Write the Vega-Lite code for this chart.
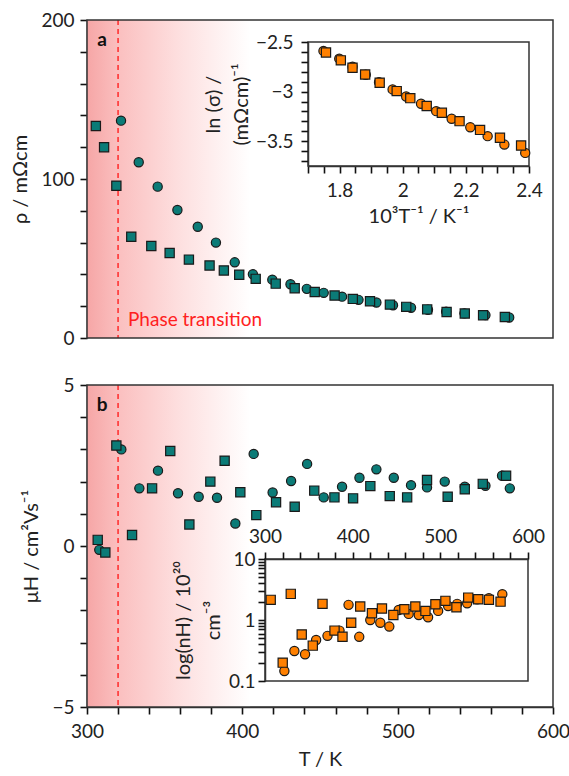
{
  "$schema": "https://vega.github.io/schema/vega-lite/v6.json",
  "padding": {"left": 10, "top": 11, "right": 5, "bottom": 5},
  "background": "white",
  "config": {
    "font": "Lato",
    "view": {"stroke": null},
    "axis": {"labelFont": "Lato", "titleFont": "Lato", "labelFontSize": 19, "titleFontSize": 20, "titleFontWeight": "normal", "labelColor": "#222222", "titleColor": "#222222", "domainColor": "#333333", "domainWidth": 1.5, "grid": false, "labelPadding": 6, "titlePadding": 10, "labelOverlap": false, "labelBound": false, "labelFlush": false}
  },
  "datasets": {
    "rho": [
      {"T": 321.9, "rho": 136.7, "sample": "A"}, {"T": 333.3, "rho": 110.5, "sample": "A"}, {"T": 345.5, "rho": 95.2, "sample": "A"}, {"T": 358.2, "rho": 80.5, "sample": "A"}, {"T": 371.3, "rho": 70, "sample": "A"}, {"T": 383, "rho": 60, "sample": "A"}, {"T": 395.1, "rho": 47.6, "sample": "A"}, {"T": 406.8, "rho": 40.1, "sample": "A"}, {"T": 419.3, "rho": 36.7, "sample": "A"}, {"T": 431, "rho": 33.8, "sample": "A"}, {"T": 441.5, "rho": 30.9, "sample": "A"}, {"T": 452.4, "rho": 28.4, "sample": "A"}, {"T": 464.2, "rho": 26, "sample": "A"}, {"T": 474.8, "rho": 24, "sample": "A"}, {"T": 486.3, "rho": 22.3, "sample": "A"}, {"T": 497, "rho": 20.6, "sample": "A"}, {"T": 508.6, "rho": 19, "sample": "A"}, {"T": 519.5, "rho": 17.8, "sample": "A"}, {"T": 531.2, "rho": 16.6, "sample": "A"}, {"T": 543, "rho": 15.5, "sample": "A"}, {"T": 556.5, "rho": 14.4, "sample": "A"}, {"T": 571.8, "rho": 12.9, "sample": "A"},
      {"T": 305.7, "rho": 133.3, "sample": "B"}, {"T": 311, "rho": 120, "sample": "B"}, {"T": 318.9, "rho": 95.8, "sample": "B"}, {"T": 328.5, "rho": 63.7, "sample": "B"}, {"T": 341.4, "rho": 57.9, "sample": "B"}, {"T": 353.2, "rho": 53.5, "sample": "B"}, {"T": 365.6, "rho": 49.3, "sample": "B"}, {"T": 378.9, "rho": 45.6, "sample": "B"}, {"T": 388.1, "rho": 42.5, "sample": "B"}, {"T": 398, "rho": 39.8, "sample": "B"}, {"T": 408.6, "rho": 37.2, "sample": "B"}, {"T": 421.5, "rho": 34.2, "sample": "B"}, {"T": 433.7, "rho": 31.3, "sample": "B"}, {"T": 446.6, "rho": 28.9, "sample": "B"}, {"T": 459.4, "rho": 26.7, "sample": "B"}, {"T": 471.1, "rho": 24.6, "sample": "B"}, {"T": 482.2, "rho": 23.1, "sample": "B"}, {"T": 495, "rho": 21, "sample": "B"}, {"T": 505.5, "rho": 19.6, "sample": "B"}, {"T": 519, "rho": 18, "sample": "B"}, {"T": 531.5, "rho": 16.4, "sample": "B"}, {"T": 543.2, "rho": 15.4, "sample": "B"}, {"T": 555, "rho": 14.3, "sample": "B"}, {"T": 569, "rho": 13.2, "sample": "B"}
    ],
    "lnsig": [
      {"invT": 1.749, "lnSigma": -2.59, "sample": "A"}, {"invT": 1.799, "lnSigma": -2.668, "sample": "A"}, {"invT": 1.841, "lnSigma": -2.75, "sample": "A"}, {"invT": 1.883, "lnSigma": -2.83, "sample": "A"}, {"invT": 1.925, "lnSigma": -2.905, "sample": "A"}, {"invT": 1.968, "lnSigma": -2.978, "sample": "A"}, {"invT": 2.011, "lnSigma": -3.049, "sample": "A"}, {"invT": 2.058, "lnSigma": -3.123, "sample": "A"}, {"invT": 2.106, "lnSigma": -3.197, "sample": "A"}, {"invT": 2.155, "lnSigma": -3.274, "sample": "A"}, {"invT": 2.214, "lnSigma": -3.359, "sample": "A"}, {"invT": 2.269, "lnSigma": -3.449, "sample": "A"}, {"invT": 2.322, "lnSigma": -3.534, "sample": "A"}, {"invT": 2.388, "lnSigma": -3.618, "sample": "A"},
      {"invT": 1.757, "lnSigma": -2.605, "sample": "B"}, {"invT": 1.804, "lnSigma": -2.685, "sample": "B"}, {"invT": 1.841, "lnSigma": -2.759, "sample": "B"}, {"invT": 1.881, "lnSigma": -2.827, "sample": "B"}, {"invT": 1.927, "lnSigma": -2.911, "sample": "B"}, {"invT": 1.981, "lnSigma": -2.995, "sample": "B"}, {"invT": 2.024, "lnSigma": -3.066, "sample": "B"}, {"invT": 2.076, "lnSigma": -3.146, "sample": "B"}, {"invT": 2.124, "lnSigma": -3.214, "sample": "B"}, {"invT": 2.18, "lnSigma": -3.298, "sample": "B"}, {"invT": 2.245, "lnSigma": -3.386, "sample": "B"}, {"invT": 2.308, "lnSigma": -3.466, "sample": "B"}, {"invT": 2.375, "lnSigma": -3.544, "sample": "B"}
    ],
    "mu": [
      {"T": 307.9, "mu": -0.12, "sample": "A"}, {"T": 322.1, "mu": 3.0, "sample": "A"}, {"T": 333.7, "mu": 1.79, "sample": "A"}, {"T": 345.7, "mu": 2.34, "sample": "A"}, {"T": 358.6, "mu": 1.64, "sample": "A"}, {"T": 371.9, "mu": 1.53, "sample": "A"}, {"T": 383.7, "mu": 1.5, "sample": "A"}, {"T": 395.5, "mu": 0.7, "sample": "A"}, {"T": 407.3, "mu": 2.86, "sample": "A"}, {"T": 419.5, "mu": 1.66, "sample": "A"}, {"T": 431.4, "mu": 2.02, "sample": "A"}, {"T": 441.7, "mu": 2.55, "sample": "A"}, {"T": 452.4, "mu": 1.51, "sample": "A"}, {"T": 464.2, "mu": 1.84, "sample": "A"}, {"T": 475.4, "mu": 2.12, "sample": "A"}, {"T": 486.3, "mu": 2.38, "sample": "A"}, {"T": 497.5, "mu": 2.12, "sample": "A"}, {"T": 508.6, "mu": 1.89, "sample": "A"}, {"T": 518.9, "mu": 1.82, "sample": "A"}, {"T": 530.3, "mu": 2.0, "sample": "A"}, {"T": 543.2, "mu": 1.84, "sample": "A"}, {"T": 556.5, "mu": 1.87, "sample": "A"}, {"T": 567.2, "mu": 2.18, "sample": "A"}, {"T": 572.2, "mu": 1.79, "sample": "A"},
      {"T": 306.9, "mu": 0.19, "sample": "B"}, {"T": 311.8, "mu": -0.2, "sample": "B"}, {"T": 318.9, "mu": 3.12, "sample": "B"}, {"T": 329, "mu": 0.34, "sample": "B"}, {"T": 341.9, "mu": 1.79, "sample": "B"}, {"T": 353.6, "mu": 2.95, "sample": "B"}, {"T": 365.9, "mu": 0.67, "sample": "B"}, {"T": 379.4, "mu": 2.0, "sample": "B"}, {"T": 388.6, "mu": 2.65, "sample": "B"}, {"T": 398.7, "mu": 1.67, "sample": "B"}, {"T": 409, "mu": 0.96, "sample": "B"}, {"T": 421.7, "mu": 1.36, "sample": "B"}, {"T": 433.7, "mu": 1.22, "sample": "B"}, {"T": 446.3, "mu": 1.72, "sample": "B"}, {"T": 459.3, "mu": 1.51, "sample": "B"}, {"T": 471.3, "mu": 1.48, "sample": "B"}, {"T": 482.4, "mu": 1.86, "sample": "B"}, {"T": 494.9, "mu": 1.55, "sample": "B"}, {"T": 506.1, "mu": 1.51, "sample": "B"}, {"T": 518.9, "mu": 2.05, "sample": "B"}, {"T": 532.2, "mu": 1.53, "sample": "B"}, {"T": 543.2, "mu": 1.76, "sample": "B"}, {"T": 554.8, "mu": 1.93, "sample": "B"}, {"T": 569.8, "mu": 2.18, "sample": "B"}
    ],
    "nH": [
      {"T": 322.1, "n": 0.146, "sample": "A"}, {"T": 333.5, "n": 0.31, "sample": "A"}, {"T": 345.7, "n": 0.275, "sample": "A"}, {"T": 358.3, "n": 0.47, "sample": "A"}, {"T": 371.3, "n": 0.55, "sample": "A"}, {"T": 385, "n": 0.67, "sample": "A"}, {"T": 395.3, "n": 1.77, "sample": "A"}, {"T": 407.5, "n": 0.53, "sample": "A"}, {"T": 420.1, "n": 1.0, "sample": "A"}, {"T": 431.5, "n": 0.9, "sample": "A"}, {"T": 441.8, "n": 0.78, "sample": "A"}, {"T": 452.5, "n": 1.46, "sample": "A"}, {"T": 463.9, "n": 1.26, "sample": "A"}, {"T": 475.4, "n": 1.21, "sample": "A"}, {"T": 486, "n": 1.11, "sample": "A"}, {"T": 497.5, "n": 1.41, "sample": "A"}, {"T": 508.9, "n": 1.7, "sample": "A"}, {"T": 519.2, "n": 1.84, "sample": "A"}, {"T": 530.6, "n": 1.88, "sample": "A"}, {"T": 542.1, "n": 2.19, "sample": "A"}, {"T": 555.4, "n": 2.28, "sample": "A"}, {"T": 570.7, "n": 2.65, "sample": "A"},
      {"T": 306.5, "n": 2.14, "sample": "B"}, {"T": 320.2, "n": 0.2, "sample": "B"}, {"T": 329.4, "n": 2.68, "sample": "B"}, {"T": 341.9, "n": 0.58, "sample": "B"}, {"T": 354.5, "n": 0.38, "sample": "B"}, {"T": 365.6, "n": 1.84, "sample": "B"}, {"T": 379.3, "n": 0.67, "sample": "B"}, {"T": 388.4, "n": 0.53, "sample": "B"}, {"T": 398.3, "n": 0.9, "sample": "B"}, {"T": 408.6, "n": 1.66, "sample": "B"}, {"T": 422, "n": 1.29, "sample": "B"}, {"T": 433.4, "n": 1.54, "sample": "B"}, {"T": 446.4, "n": 1.21, "sample": "B"}, {"T": 459, "n": 1.5, "sample": "B"}, {"T": 471.5, "n": 1.66, "sample": "B"}, {"T": 483, "n": 1.41, "sample": "B"}, {"T": 494.4, "n": 1.81, "sample": "B"}, {"T": 505.8, "n": 2.06, "sample": "B"}, {"T": 518.4, "n": 1.62, "sample": "B"}, {"T": 531.8, "n": 2.33, "sample": "B"}, {"T": 543.2, "n": 2.19, "sample": "B"}, {"T": 555.4, "n": 2.14, "sample": "B"}, {"T": 568.7, "n": 2.0, "sample": "B"}
    ]
  },
  "spacing": 47,
  "bounds": "flush",
  "vconcat": [
    {
      "width": 466,
      "height": 318,
      "layer": [
        {
          "resolve": {"axis": {"x": "independent", "y": "independent"}},
          "layer": [
            {
              "data": {"values": [{"T": 300, "T2": 405}]},
              "mark": {"type": "rect", "fill": {"gradient": "linear", "x1": 0, "y1": 0, "x2": 1, "y2": 0, "stops": [{"offset": 0, "color": "#f6a6a6"}, {"offset": 0.2, "color": "#fbc0c0"}, {"offset": 0.55, "color": "#fddede"}, {"offset": 1, "color": "#ffffff"}]}},
              "encoding": {
                "x": {"field": "T", "type": "quantitative", "scale": {"domain": [300, 600], "nice": false, "zero": false}, "axis": null},
                "x2": {"field": "T2"}
              }
            },
            {
              "data": {"values": [{"T": 320}]},
              "mark": {"type": "rule", "color": "#ff2a2a", "strokeDash": [5, 4], "strokeWidth": 1.5},
              "encoding": {
                "x": {"field": "T", "type": "quantitative", "axis": null}
              }
            },
            {
              "data": {"values": [{"T": 326.4, "rho": 11.3, "label": "Phase transition"}]},
              "mark": {"type": "text", "align": "left", "baseline": "middle", "fontSize": 19, "color": "#ff2020", "font": "Lato"},
              "encoding": {
                "x": {"field": "T", "type": "quantitative", "axis": null},
                "y": {"field": "rho", "type": "quantitative", "axis": null},
                "text": {"field": "label"}
              }
            },
            {
              "data": {"values": [{"T": 309.7, "rho": 187.4, "label": "a"}]},
              "mark": {"type": "text", "align": "center", "baseline": "middle", "fontSize": 19, "fontWeight": "bold", "color": "#111111", "font": "Lato"},
              "encoding": {
                "x": {"field": "T", "type": "quantitative", "axis": null},
                "y": {"field": "rho", "type": "quantitative", "axis": null},
                "text": {"field": "label"}
              }
            },
            {
              "data": {"name": "rho"},
              "mark": {"type": "point", "filled": true, "size": 85, "fill": "#0b7b77", "stroke": "#1a1a1a", "strokeWidth": 1.2, "opacity": 1},
              "encoding": {
                "x": {"field": "T", "type": "quantitative", "axis": null},
                "y": {"field": "rho", "type": "quantitative", "scale": {"domain": [0, 200], "nice": false, "zero": false}, "axis": {"tickColor": "#111111", "tickSize": 7, "tickWidth": 1.6, "title": "ρ / mΩcm", "values": [0, 20, 40, 60, 80, 100, 120, 140, 160, 180, 200], "labelExpr": "datum.value % 100 === 0 ? datum.label : ''"}},
                "shape": {"field": "sample", "type": "nominal", "scale": {"domain": ["A", "B"], "range": ["circle", "square"]}, "legend": null}
              }
            },
            {
              "data": {"values": [{"T": 300, "T2": 600, "rho": 0, "rho2": 200}]},
              "mark": {"type": "rect", "fillOpacity": 0, "stroke": "#333333", "strokeWidth": 1.5},
              "encoding": {
                "x": {"field": "T", "type": "quantitative", "axis": null},
                "x2": {"field": "T2"},
                "y": {"field": "rho", "type": "quantitative", "axis": null},
                "y2": {"field": "rho2"}
              }
            }
          ]
        },
        {
          "resolve": {"axis": {"x": "independent", "y": "independent"}},
          "layer": [
            {
              "data": {"values": [{"invT": 1.7, "invT2": 2.4, "lnSigma": -3.75, "lnSigma2": -2.5}]},
              "mark": {"type": "rect", "fill": "white", "stroke": "#333333", "strokeWidth": 1.5},
              "encoding": {
                "x": {"field": "invT", "type": "quantitative", "scale": {"domain": [1.7, 2.4], "range": [221, 442], "nice": false, "zero": false}, "axis": null},
                "x2": {"field": "invT2"},
                "y": {"field": "lnSigma", "type": "quantitative", "scale": {"domain": [-3.75, -2.5], "range": [146, 22], "nice": false, "zero": false}, "axis": null},
                "y2": {"field": "lnSigma2"}
              }
            },
            {
              "data": {"name": "lnsig"},
              "mark": {"type": "point", "filled": true, "size": 85, "fill": "#ff8000", "stroke": "#1a1a1a", "strokeWidth": 1.2, "opacity": 1},
              "encoding": {
                "x": {"field": "invT", "type": "quantitative", "axis": {"zindex": 1, "tickColor": "#111111", "tickSize": 7, "tickWidth": 1.6, "orient": "bottom", "offset": -172, "title": "10³T⁻¹ / K⁻¹", "values": [1.7, 1.75, 1.8, 1.85, 1.9, 1.95, 2, 2.05, 2.1, 2.15, 2.2, 2.25, 2.3, 2.35, 2.4], "format": "~g", "labelExpr": "abs(datum.value*5 - round(datum.value*5)) < 0.001 ? datum.label : ''", "labelPadding": 8, "titlePadding": 6}},
                "y": {"field": "lnSigma", "type": "quantitative", "axis": {"zindex": 1, "tickColor": "#111111", "tickSize": 7, "tickWidth": 1.6, "orient": "left", "offset": -221, "title": ["ln (σ) /", "(mΩcm)⁻¹"], "values": [-3.7, -3.6, -3.5, -3.4, -3.3, -3.2, -3.1, -3, -2.9, -2.8, -2.7, -2.6, -2.5], "format": "~g", "labelExpr": "abs(datum.value*2 - round(datum.value*2)) < 0.001 ? datum.label : ''", "labelPadding": 8, "titlePadding": 4, "titleLineHeight": 28}},
                "shape": {"field": "sample", "type": "nominal", "scale": {"domain": ["A", "B"], "range": ["circle", "square"]}, "legend": null}
              }
            }
          ]
        }
      ],
      "resolve": {"scale": {"x": "independent", "y": "independent"}}
    },
    {
      "width": 466,
      "height": 322,
      "layer": [
        {
          "resolve": {"axis": {"x": "independent", "y": "independent"}},
          "layer": [
            {
              "data": {"values": [{"T": 300, "T2": 405}]},
              "mark": {"type": "rect", "fill": {"gradient": "linear", "x1": 0, "y1": 0, "x2": 1, "y2": 0, "stops": [{"offset": 0, "color": "#f6a6a6"}, {"offset": 0.2, "color": "#fbc0c0"}, {"offset": 0.55, "color": "#fddede"}, {"offset": 1, "color": "#ffffff"}]}},
              "encoding": {
                "x": {"field": "T", "type": "quantitative", "scale": {"domain": [300, 600], "nice": false, "zero": false}, "axis": null},
                "x2": {"field": "T2"}
              }
            },
            {
              "data": {"values": [{"T": 320}]},
              "mark": {"type": "rule", "color": "#ff2a2a", "strokeDash": [5, 4], "strokeWidth": 1.5},
              "encoding": {
                "x": {"field": "T", "type": "quantitative", "axis": null}
              }
            },
            {
              "data": {"values": [{"T": 309.7, "mu": 4.38, "label": "b"}]},
              "mark": {"type": "text", "align": "center", "baseline": "middle", "fontSize": 19, "fontWeight": "bold", "color": "#111111", "font": "Lato"},
              "encoding": {
                "x": {"field": "T", "type": "quantitative", "axis": null},
                "y": {"field": "mu", "type": "quantitative", "axis": null},
                "text": {"field": "label"}
              }
            },
            {
              "data": {"name": "mu"},
              "mark": {"type": "point", "filled": true, "size": 85, "fill": "#0b7b77", "stroke": "#1a1a1a", "strokeWidth": 1.2, "opacity": 1},
              "encoding": {
                "x": {"field": "T", "type": "quantitative", "axis": {"tickColor": "#111111", "tickSize": 7, "tickWidth": 1.6, "title": "T / K", "values": [300, 320, 340, 360, 380, 400, 420, 440, 460, 480, 500, 520, 540, 560, 580, 600], "labelExpr": "datum.value % 100 === 0 ? datum.label : ''", "labelPadding": 8, "titlePadding": 8}},
                "y": {"field": "mu", "type": "quantitative", "scale": {"domain": [-5, 5], "nice": false, "zero": false}, "axis": {"tickColor": "#111111", "tickSize": 7, "tickWidth": 1.6, "title": "μH / cm²Vs⁻¹", "values": [-5, -4, -3, -2, -1, 0, 1, 2, 3, 4, 5], "labelExpr": "datum.value % 5 === 0 ? datum.label : ''"}},
                "shape": {"field": "sample", "type": "nominal", "scale": {"domain": ["A", "B"], "range": ["circle", "square"]}, "legend": null}
              }
            },
            {
              "data": {"values": [{"T": 300, "T2": 600, "mu": -5, "mu2": 5}]},
              "mark": {"type": "rect", "fillOpacity": 0, "stroke": "#333333", "strokeWidth": 1.5},
              "encoding": {
                "x": {"field": "T", "type": "quantitative", "axis": null},
                "x2": {"field": "T2"},
                "y": {"field": "mu", "type": "quantitative", "axis": null},
                "y2": {"field": "mu2"}
              }
            }
          ]
        },
        {
          "resolve": {"axis": {"x": "independent", "y": "independent"}},
          "layer": [
            {
              "data": {"values": [{"T": 300, "T2": 600, "n": 0.1, "n2": 10}]},
              "mark": {"type": "rect", "fill": "white", "stroke": "#333333", "strokeWidth": 1.5},
              "encoding": {
                "x": {"field": "T", "type": "quantitative", "scale": {"domain": [300, 600], "range": [178, 441], "nice": false, "zero": false}, "axis": null},
                "x2": {"field": "T2"},
                "y": {"field": "n", "type": "quantitative", "scale": {"type": "log", "domain": [0.1, 10], "range": [296, 174]}, "axis": null},
                "y2": {"field": "n2"}
              }
            },
            {
              "data": {"name": "nH"},
              "mark": {"type": "point", "filled": true, "size": 85, "fill": "#ff8000", "stroke": "#1a1a1a", "strokeWidth": 1.2, "opacity": 1},
              "encoding": {
                "x": {"field": "T", "type": "quantitative", "axis": {"zindex": 1, "tickColor": "#111111", "tickSize": 7, "tickWidth": 1.6, "orient": "top", "offset": -174, "title": null, "values": [300, 320, 340, 360, 380, 400, 420, 440, 460, 480, 500, 520, 540, 560, 580, 600], "labelExpr": "datum.value % 100 === 0 ? datum.label : ''", "labelPadding": 6}},
                "y": {"field": "n", "type": "quantitative", "axis": {"zindex": 1, "tickColor": "#111111", "tickSize": 7, "tickWidth": 1.6, "orient": "left", "offset": -178, "title": ["log(nH) / 10²⁰", "cm⁻³"], "values": [0.1, 0.2, 0.3, 0.4, 0.5, 0.6, 0.7, 0.8, 0.9, 1, 2, 3, 4, 5, 6, 7, 8, 9, 10], "format": "~g", "labelExpr": "datum.value === 0.1 || datum.value === 1 || datum.value === 10 ? datum.label : ''", "labelPadding": 3, "titlePadding": 5, "titleLineHeight": 30}},
                "shape": {"field": "sample", "type": "nominal", "scale": {"domain": ["A", "B"], "range": ["circle", "square"]}, "legend": null}
              }
            }
          ]
        }
      ],
      "resolve": {"scale": {"x": "independent", "y": "independent"}}
    }
  ]
}
